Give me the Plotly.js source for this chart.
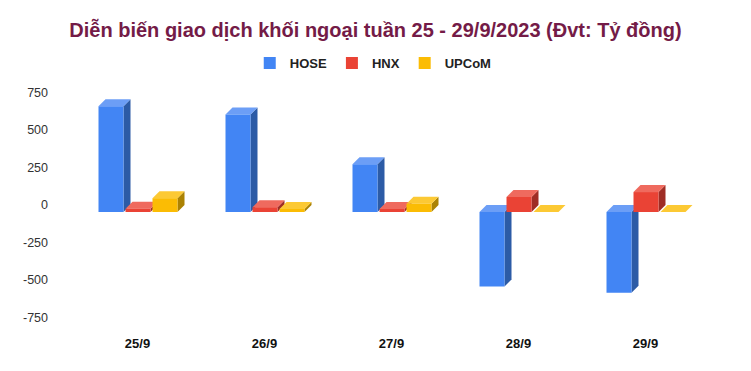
<!DOCTYPE html>
<html>
<head>
<meta charset="utf-8">
<script src="https://cdn.plot.ly/plotly-3.0.1.min.js"></script>
<style>
  html, body { margin: 0; padding: 0; background: #ffffff; }
  #chart { width: 751px; height: 371px; }
</style>
</head>
<body>
<div id="chart"></div>
<script>
// Net foreign trading by exchange, week 25 - 29/9/2023 (billion VND)
const days = ['25/9', '26/9', '27/9', '28/9', '29/9'];
const hose = [705, 650, 318, -497, -538];
const hnx = [22, 32, 20, 100, 133];
const upcom = [92, 20, 55, 0, 0];
const yTickVals = [750, 500, 250, 0, -250, -500, -750];
const yTickText = ['750', '500', '250', '0', '-250', '-500', '-750'];

// Plot geometry
const W = 751, H = 371;
const margin = { l: 74, r: 42, t: 80, b: 41 };
const xRange = [-0.5, days.length - 0.5];
const yRange = [-833.33, 833.33];
const plotW = W - margin.l - margin.r;
const plotH = H - margin.t - margin.b;
const pxPerX = plotW / (xRange[1] - xRange[0]);
const pxPerY = plotH / (yRange[1] - yRange[0]);

// Pseudo-3D column look: depth offset in pixels, converted to data units
const DEPTH_PX = 7;
const dX = DEPTH_PX / pxPerX;
const dY = DEPTH_PX / pxPerY;

// Column width and pitch inside a group
const barW = 25 / pxPerX;
const pitch = 27 / pxPerX;
const groupStart = -1.5 * pitch + 1.5 / pxPerX;

const series = [
  { name: 'HOSE', values: hose, front: '#4285F4', top: '#6C9EF6', side: '#2C5BA6' },
  { name: 'HNX', values: hnx, front: '#EA4335', top: '#EF6A5E', side: '#9F2D25' },
  { name: 'UPCoM', values: upcom, front: '#FBBC04', top: '#FCC934', side: '#AB8203' }
];

// Front faces: regular bar traces, sitting one depth step below the back plane
const traces = series.map((s, k) => ({
  type: 'bar',
  name: s.name,
  x: days.map((d, i) => i),
  y: s.values,
  base: s.values.map(() => -dY),
  width: barW,
  offset: groupStart + k * pitch,
  marker: { color: s.front, line: { width: 0 } },
  hoverinfo: 'skip'
}));

// Top and side faces drawn as paths in data coordinates
function poly(pts) {
  return 'M' + pts.map(p => p[0] + ',' + p[1]).join('L') + 'Z';
}
const shapes = [];
days.forEach((d, i) => {
  series.forEach((s, k) => {
    const v = s.values[i];
    const x0 = i + groupStart + k * pitch;
    const x1 = x0 + barW;
    const hi = Math.max(v, 0);
    const lo = Math.min(v, 0);
    // right-hand side face
    shapes.push({
      type: 'path', xref: 'x', yref: 'y', layer: 'below',
      path: poly([[x1, lo - dY], [x1, hi - dY], [x1 + dX, hi], [x1 + dX, lo]]),
      fillcolor: s.side, line: { width: 0 }
    });
    // top face
    shapes.push({
      type: 'path', xref: 'x', yref: 'y', layer: 'below',
      path: poly([[x0, hi - dY], [x1, hi - dY], [x1 + dX, hi], [x0 + dX, hi]]),
      fillcolor: s.top, line: { width: 0 }
    });
  });
});

const font = 'Liberation Sans, Arial, sans-serif';

const layout = {
  width: W,
  height: H,
  margin: margin,
  paper_bgcolor: '#ffffff',
  plot_bgcolor: '#ffffff',
  barmode: 'overlay',
  showlegend: true,
  title: {
    text: 'Diễn biến giao dịch khối ngoại tuần 25 - 29/9/2023 (Đvt: Tỷ đồng)',
    font: { family: font, size: 20, weight: 'bold', color: '#741B47' },
    x: 0.5, xanchor: 'center',
    y: 1 - 30 / H, yref: 'container', yanchor: 'middle'
  },
  legend: {
    orientation: 'h',
    x: 0.497, xanchor: 'center', xref: 'container',
    y: 1 - 63 / H, yanchor: 'middle', yref: 'container',
    font: { family: font, size: 13, weight: 'bold', color: '#222222' },
    itemclick: false, itemdoubleclick: false
  },
  xaxis: {
    range: xRange,
    tickvals: days.map((d, i) => i),
    ticktext: days,
    showgrid: false, zeroline: false, showline: false,
    ticks: '',
    ticklabelstandoff: 4,
    tickfont: { family: font, size: 13, weight: 'bold', color: '#111111' },
    fixedrange: true
  },
  yaxis: {
    range: yRange,
    tickvals: yTickVals,
    ticktext: yTickText,
    showgrid: false, zeroline: false, showline: false,
    ticks: '',
    ticklabelstandoff: 25,
    tickfont: { family: font, size: 12.5, color: '#333333' },
    fixedrange: true
  },
  shapes: shapes
};

Plotly.newPlot('chart', traces, layout, { displayModeBar: false, staticPlot: true });
</script>
</body>
</html>
